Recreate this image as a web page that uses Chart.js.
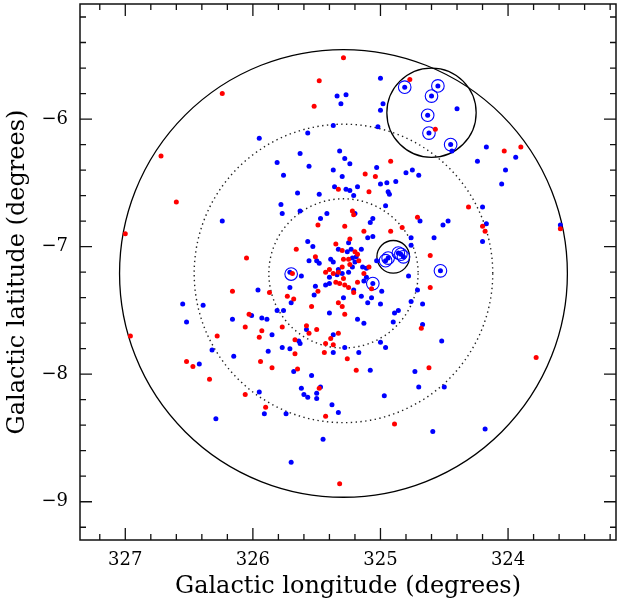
<!DOCTYPE html>
<html>
<head>
<meta charset="utf-8">
<script src="https://cdn.jsdelivr.net/npm/chart.js@4/dist/chart.umd.min.js"></script>
<style>
  html, body { margin: 0; padding: 0; background: #fff; }
  canvas { display: block; }
</style>
</head>
<body>
<canvas id="c" width="617" height="603"></canvas>
<script>
// ---- data (galactic longitude / latitude, degrees) ----
const redLon = [326.24,326.72,326.60,327.00,326.05,326.16,326.03,326.06,326.96,326.28,325.95,326.52,326.47,326.34,326.06,
  325.69,325.43,325.37,325.33,325.29,325.35,325.32,325.28,325.25,325.18,325.13,325.07,325.21,325.49,325.73,325.68,325.87,
  325.33,325.30,325.54,325.28,324.61,324.68,325.77,325.58,325.56,325.50,325.33,325.39,325.93,325.67,325.43,325.37,325.67,
  325.44,325.26,325.94,325.85,325.65,325.19,324.62,325.48,325.90,325.43,324.89,325.32,323.78,324.03,323.90,324.31,324.20,
  324.18,323.59,325.29,325.48,325.52,324.77,324.57,324.92,325.12,325.04,325.33,325.09,325.22,325.21,325.49,325.28,324.71,
  324.83,325.13,324.92,325.24,325.66,325.35,325.30,325.20,325.18,325.29,325.25,325.17,325.51,325.30,325.24,325.40,325.09,324.61];
const redLat = [-5.80,-6.29,-6.65,-6.90,-7.09,-7.35,-7.53,-7.63,-7.70,-7.70,-7.71,-7.90,-7.94,-8.04,-8.16,
  -7.21,-7.20,-7.21,-7.20,-7.25,-7.28,-7.29,-7.30,-7.32,-7.28,-7.21,-7.33,-7.36,-7.35,-7.39,-7.41,-7.36,
  -7.44,-7.47,-7.47,-7.53,-7.32,-7.64,-7.63,-7.62,-7.68,-7.65,-7.68,-7.72,-7.66,-7.73,-7.76,-7.77,-7.84,
  -7.83,-7.88,-7.90,-7.95,-7.96,-7.97,-7.95,-8.11,-8.26,-8.33,-8.39,-8.86,-7.87,-6.25,-6.22,-6.69,-6.84,
  -6.88,-6.86,-5.52,-5.70,-5.90,-5.69,-6.08,-6.33,-6.43,-6.45,-6.55,-6.57,-6.72,-6.75,-6.83,-6.84,-6.77,
  -6.85,-6.88,-6.88,-6.94,-7.02,-6.98,-7.03,-7.04,-7.06,-7.10,-7.10,-7.11,-7.08,-7.16,-7.14,-7.18,-7.16,-7.07];

const blueLon = [325.95,326.24,325.96,326.55,326.39,326.52,326.01,326.16,326.32,326.15,326.42,325.95,326.29,
  325.71,325.62,325.71,325.40,325.34,325.30,325.25,325.40,325.43,325.51,325.13,325.11,325.06,324.99,325.21,325.29,
  325.52,325.70,325.15,325.07,325.10,325.00,325.40,325.81,325.76,325.93,325.89,325.18,325.13,324.89,324.86,324.90,
  324.76,324.71,324.67,324.67,325.58,325.37,325.85,325.64,325.63,325.28,325.00,324.96,325.77,325.71,325.88,325.37,
  325.17,325.68,325.08,324.73,325.54,325.62,325.60,325.57,325.47,325.50,325.50,324.70,324.97,325.91,325.74,325.38,
  325.33,324.59,325.45,325.70,324.53,324.52,324.50,324.18,324.40,324.45,324.44,324.17,323.94,324.24,324.02,324.05,
  324.20,324.51,324.47,324.17,324.20,323.59,325.34,325.27,325.31,325.00,324.98,325.00,325.02,325.37,325.57,324.81,
  324.55,324.60,324.63,324.62,325.32,325.63,325.28,325.24,325.81,325.56,325.03,325.37,325.76,325.30,324.80,324.75,
  324.70,325.00,324.95,324.88,325.36,325.27,325.24,325.18,325.65,325.48,324.94,324.93,325.21,325.78,325.77,325.63,
  324.96,325.20,325.42,325.47,325.06,325.08,324.69,325.06,325.10,324.76,324.58,325.57,325.25,325.53,325.33,325.26,
  325.23,325.15,325.19,325.22,325.56,325.50,325.48,325.39,325.37,325.22,325.20,325.33,325.14,325.11,325.03,324.76,
  324.96,324.94,324.86,324.84,324.82,324.78];
const blueLat = [-6.15,-6.80,-7.34,-7.45,-7.46,-7.59,-7.54,-7.57,-7.81,-7.86,-7.92,-8.14,-8.35,
  -7.20,-7.23,-7.32,-7.24,-7.22,-7.21,-7.20,-7.29,-7.30,-7.31,-7.27,-7.24,-7.29,-7.35,-7.34,-7.40,
  -7.38,-7.44,-7.39,-7.40,-7.44,-7.45,-7.52,-7.50,-7.50,-7.56,-7.57,-7.57,-7.60,-7.52,-7.50,-7.59,
  -7.43,-7.34,-7.45,-7.61,-7.65,-7.69,-7.69,-7.74,-7.76,-7.79,-7.75,-7.79,-7.79,-7.80,-7.82,-7.83,
  -7.83,-7.98,-7.97,-7.98,-8.01,-8.11,-8.16,-8.18,-8.10,-8.15,-8.19,-8.10,-8.17,-8.31,-8.31,-8.24,
  -8.30,-8.45,-8.51,-8.69,-7.19,-7.74,-8.10,-8.43,-5.92,-6.20,-6.25,-6.22,-6.30,-6.33,-6.40,-6.51,
  -6.69,-6.83,-6.80,-6.82,-6.96,-6.83,-5.82,-5.81,-5.88,-5.68,-5.88,-5.93,-6.06,-6.05,-6.11,-5.75,
  -5.74,-5.82,-5.97,-6.11,-6.25,-6.27,-6.31,-6.35,-6.34,-6.37,-6.38,-6.40,-6.44,-6.45,-6.42,-6.40,
  -6.44,-6.51,-6.50,-6.49,-6.53,-6.55,-6.56,-6.53,-6.58,-6.59,-6.57,-6.59,-6.60,-6.67,-6.74,-6.72,
  -6.68,-6.74,-6.74,-6.78,-6.78,-6.81,-6.80,-6.92,-6.93,-6.93,-6.93,-6.96,-6.97,-7.00,-7.02,-7.04,
  -7.02,-7.02,-7.08,-7.09,-7.11,-7.11,-7.13,-7.10,-7.12,-7.16,-7.12,-7.18,-7.16,-7.17,-7.11,-6.99,
  -7.11,-7.09,-7.05,-7.06,-7.08,-7.23];

// encircled (flagged) stars
const ringLon = [324.81,324.55,324.60,324.63,324.62,324.45,325.70,325.06,324.53,324.96,324.94,324.86,324.84,324.82];
const ringLat = [-5.75,-5.74,-5.82,-5.97,-6.11,-6.20,-7.215,-7.29,-7.19,-7.11,-7.09,-7.05,-7.06,-7.08];

// field circles: centre (lon, lat) and radius in degrees
const fieldLon = [325.29, 325.29, 325.29, 324.60, 324.90];
const fieldLat = [-7.21, -7.21, -7.21, -5.95, -7.08];
const fieldRadius = [1.755, 1.17, 0.585, 0.35, 0.128];
const fieldDotted = [false, true, true, false, false];

// axis ticks
const xTicks = [323.2,323.4,323.6,323.8,324,324.2,324.4,324.6,324.8,325,325.2,325.4,325.6,325.8,326,326.2,326.4,326.6,326.8,327,327.2];
const yTicks = [-9.2,-9,-8.8,-8.6,-8.4,-8.2,-8,-7.8,-7.6,-7.4,-7.2,-7,-6.8,-6.6,-6.4,-6.2,-6,-5.8,-5.6,-5.4,-5.2];
const xRange = [323.154, 327.355];
const yRange = [-9.30, -5.098];

const pts = (lons, lats) => lons.map((v, i) => ({x: v, y: lats[i]}));
const isMajor = v => Math.abs(v - Math.round(v)) < 1e-6;

const fieldPlugin = {
  id: 'fields',
  beforeDatasetsDraw(chart) {
    const {ctx, scales: {x, y}} = chart;
    ctx.save();
    for (let i = 0; i < fieldLon.length; i++) {
      const cx = x.getPixelForValue(fieldLon[i]);
      const cy = y.getPixelForValue(fieldLat[i]);
      const rx = Math.abs(x.getPixelForValue(fieldLon[i] + fieldRadius[i]) - cx);
      const ry = Math.abs(y.getPixelForValue(fieldLat[i] + fieldRadius[i]) - cy);
      ctx.beginPath();
      ctx.ellipse(cx, cy, rx, ry, 0, 0, Math.PI * 2);
      if (fieldDotted[i]) { ctx.setLineDash([1.4, 3.4]); ctx.lineWidth = 1.4; ctx.strokeStyle = '#222'; }
      else { ctx.setLineDash([]); ctx.lineWidth = 1.3; ctx.strokeStyle = '#000'; }
      ctx.stroke();
    }
    ctx.restore();
  },
  afterDraw(chart) {
    const {ctx, chartArea: {left, right, top, bottom}, scales: {x, y}} = chart;
    ctx.save();
    ctx.strokeStyle = '#111';
    ctx.lineWidth = 1.5;
    ctx.setLineDash([]);
    ctx.strokeRect(left, top, right - left, bottom - top);
    ctx.lineWidth = 1.3;
    ctx.beginPath();
    x.ticks.forEach(t => {
      const px = x.getPixelForValue(t.value);
      const len = isMajor(t.value) ? 12 : 6;
      ctx.moveTo(px, bottom); ctx.lineTo(px, bottom - len);
      ctx.moveTo(px, top); ctx.lineTo(px, top + len);
    });
    y.ticks.forEach(t => {
      const py = y.getPixelForValue(t.value);
      const len = isMajor(t.value) ? 12 : 6;
      ctx.moveTo(left, py); ctx.lineTo(left + len, py);
      ctx.moveTo(right, py); ctx.lineTo(right - len, py);
    });
    ctx.stroke();
    ctx.restore();
  }
};

const tickFont = {family: 'DejaVu Serif', size: 18};
const titleFont = {family: 'DejaVu Serif', size: 24};

new Chart(document.getElementById('c'), {
  type: 'scatter',
  data: {
    datasets: [
      {label: 'red', data: pts(redLon, redLat), backgroundColor: '#ff0000', borderColor: '#ff0000', pointRadius: 2.5, borderWidth: 0},
      {label: 'blue', data: pts(blueLon, blueLat), backgroundColor: '#0000ff', borderColor: '#0000ff', pointRadius: 2.5, borderWidth: 0},
      {label: 'rings', data: pts(ringLon, ringLat), backgroundColor: 'rgba(0,0,0,0)', borderColor: '#0000ff', pointRadius: 6.3, borderWidth: 1.1}
    ]
  },
  options: {
    responsive: false,
    devicePixelRatio: 1,
    animation: false,
    events: [],
    layout: {autoPadding: false, padding: {left: 0, right: 1, top: 4, bottom: 0}},
    plugins: {legend: {display: false}, tooltip: {enabled: false}},
    scales: {
      x: {
        type: 'linear', reverse: true, min: xRange[0], max: xRange[1],
        afterBuildTicks: s => { s.ticks = xTicks.map(v => ({value: v})); },
        afterFit: s => { s.height = 63; s.paddingLeft = 0; s.paddingRight = 0; },
        grid: {display: false, drawTicks: false},
        border: {display: false},
        ticks: {autoSkip: false, maxRotation: 0, padding: 10, color: '#000', font: tickFont,
          callback: v => isMajor(v) ? String(Math.round(v)) : ''},
        title: {display: true, text: 'Galactic longitude (degrees)', color: '#000', font: titleFont, padding: {top: 0, bottom: 2}}
      },
      y: {
        type: 'linear', min: yRange[0], max: yRange[1],
        afterBuildTicks: s => { s.ticks = yTicks.map(v => ({value: v})); },
        afterFit: s => { s.width = 80; s.paddingTop = 0; s.paddingBottom = 0; },
        grid: {display: false, drawTicks: false},
        border: {display: false},
        ticks: {autoSkip: false, padding: 12, color: '#000', font: tickFont,
          callback: v => isMajor(v) ? '\u2212' + Math.abs(Math.round(v)) : ''},
        title: {display: true, text: 'Galactic latitude (degrees)', color: '#000', font: titleFont, padding: {top: 3, bottom: 0}}
      }
    }
  },
  plugins: [fieldPlugin]
});
</script>
</body>
</html>
